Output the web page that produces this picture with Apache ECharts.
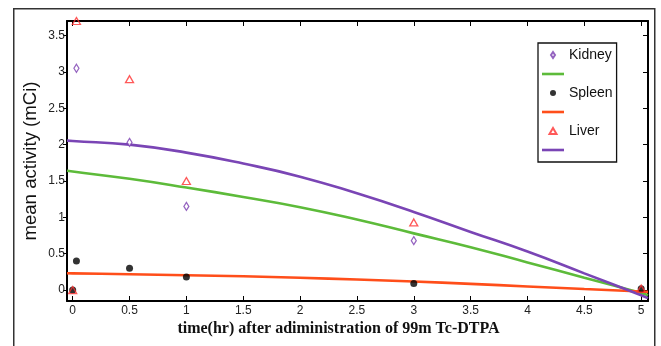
<!DOCTYPE html>
<html>
<head>
<meta charset="utf-8">
<script src="https://cdn.jsdelivr.net/npm/echarts@6/dist/echarts.min.js"></script>
<style>html,body{margin:0;padding:0;background:#fff}#c{width:661px;height:346px}</style>
</head>
<body>
<div id="c"></div>
<script>
// measured points
const kidneyData = [[0.033, 3.05], [0.5, 2.03], [1, 1.15], [3, 0.68]];
const spleenData = [[0, 0], [0.033, 0.40], [0.5, 0.30], [1, 0.18], [3, 0.09], [5, 0.02]];
const liverData  = [[0, 0], [0.033, 3.70], [0.5, 2.90], [1, 1.50], [3, 0.93], [5, 0.02]];
// fitted curves
const fitX      = [-0.05, 0, 0.5, 1, 1.5, 2, 2.5, 3, 3.5, 4, 4.5, 5, 5.06];
const greenFit  = [1.64, 1.63, 1.53, 1.41, 1.28, 1.14, 0.97, 0.78, 0.59, 0.38, 0.17, -0.04, -0.07];
const orangeFit = [0.232, 0.23, 0.218, 0.205, 0.19, 0.17, 0.145, 0.118, 0.085, 0.05, 0.015, -0.02, -0.025];
const purpleFit = [2.055, 2.05, 2.00, 1.89, 1.74, 1.56, 1.33, 1.075, 0.80, 0.53, 0.23, -0.07, -0.11];
const xTicks = [0, 0.5, 1, 1.5, 2, 2.5, 3, 3.5, 4, 4.5, 5];
const yTicks = [0, 0.5, 1, 1.5, 2, 2.5, 3, 3.5];

const zip = (xs, ys) => xs.map((x, i) => [x, ys[i]]);
const fmt = v => String(v);
const lineIcon = 'path://M0,0L22,0L22,2.6L0,2.6Z';
const diamondIcon = 'path://M2,0L4,3L2,6L0,3Z';
const triangleIcon = 'path://M3.5,0L7,6L0,6Z';

const chart = echarts.init(document.getElementById('c'), null, {renderer: 'canvas'});
const axisLine = {show: true, onZero: false, lineStyle: {color: '#000', width: 2}};
const labelFont = {fontFamily: 'Liberation Sans', fontSize: 12, color: '#222'};

chart.setOption({
  animation: false,
  backgroundColor: '#fff',
  graphic: [{
    type: 'rect', left: 13, top: 8, z: -10,
    shape: {width: 641, height: 360},
    style: {fill: '#fff', stroke: '#333', lineWidth: 1.5}
  }],
  grid: {left: 67, top: 21, right: 13, bottom: 45},
  legend: {
    left: 538, top: 43, orient: 'vertical',
    backgroundColor: '#fff', borderColor: '#111', borderWidth: 1.3,
    padding: [5, 4, 5, 4], itemWidth: 22, itemHeight: 6, itemGap: 5,
    textStyle: {fontFamily: 'Liberation Sans', fontSize: 14, color: '#111'},
    data: [
      {name: 'Kidney', icon: diamondIcon},
      {name: ' ', icon: lineIcon},
      {name: 'Spleen'},
      {name: '  ', icon: lineIcon},
      {name: 'Liver', icon: triangleIcon},
      {name: '   ', icon: lineIcon}
    ]
  },
  xAxis: [{
    type: 'value', min: -0.05, max: 5.06, position: 'bottom',
    name: 'time(hr) after adiministration of 99m Tc-DTPA',
    nameLocation: 'middle', nameGap: 20, nameMoveOverlap: false,
    nameTextStyle: {fontFamily: 'Liberation Serif', fontWeight: 'bold', fontSize: 16, color: '#111', padding: [0, 38, 0, 0]},
    axisLine, splitLine: {show: false},
    axisTick: {show: true, inside: true, length: 5, customValues: xTicks, lineStyle: {color: '#000', width: 1}},
    axisLabel: Object.assign({customValues: xTicks, formatter: fmt, margin: 4}, labelFont)
  }, {
    type: 'value', min: -0.05, max: 5.06, position: 'top',
    axisLine, splitLine: {show: false},
    axisTick: {show: true, inside: true, length: 5, customValues: xTicks, lineStyle: {color: '#000', width: 1}},
    axisLabel: {show: false}
  }],
  yAxis: [{
    type: 'value', min: -0.15, max: 3.7, position: 'left',
    name: 'mean activity (mCi)', nameLocation: 'middle', nameGap: 27, nameMoveOverlap: false,
    nameTextStyle: {fontFamily: 'Liberation Sans', fontSize: 18.6, color: '#111'},
    axisLine, splitLine: {show: false},
    axisTick: {show: true, inside: false, length: 4, customValues: yTicks, lineStyle: {color: '#000', width: 1}},
    axisLabel: Object.assign({customValues: yTicks, formatter: fmt, margin: 2}, labelFont)
  }, {
    type: 'value', min: -0.15, max: 3.7, position: 'right',
    axisLine, splitLine: {show: false},
    axisTick: {show: true, inside: true, length: 5, customValues: yTicks, lineStyle: {color: '#000', width: 1}},
    axisLabel: {show: false}
  }],
  series: [
    {name: 'Kidney', type: 'scatter', data: kidneyData, symbol: 'diamond', symbolSize: [5, 8], clip: false, z: 5,
     itemStyle: {color: '#fff', borderColor: '#7A3DB0', borderWidth: 1.3}},
    {name: ' ', type: 'line', data: zip(fitX, greenFit), symbol: 'none', smooth: true, z: 3,
     lineStyle: {color: '#5DBB3A', width: 2.6}, itemStyle: {color: '#5DBB3A'}},
    {name: 'Spleen', type: 'scatter', data: spleenData, symbol: 'circle', symbolSize: 7, clip: false, z: 6,
     itemStyle: {color: '#000'}},
    {name: '  ', type: 'line', data: zip(fitX, orangeFit), symbol: 'none', smooth: true, z: 3,
     lineStyle: {color: '#FF4E1A', width: 2.6}, itemStyle: {color: '#FF4E1A'}},
    {name: 'Liver', type: 'scatter', data: liverData, symbol: 'triangle', symbolSize: [8, 7], clip: false, z: 7,
     itemStyle: {color: 'rgba(0,0,0,0)', borderColor: '#FF3030', borderWidth: 1.3}},
    {name: '   ', type: 'line', data: zip(fitX, purpleFit), symbol: 'none', smooth: true, z: 3,
     lineStyle: {color: '#7A45B5', width: 2.6}, itemStyle: {color: '#7A45B5'}}
  ]
});
</script>
</body>
</html>
